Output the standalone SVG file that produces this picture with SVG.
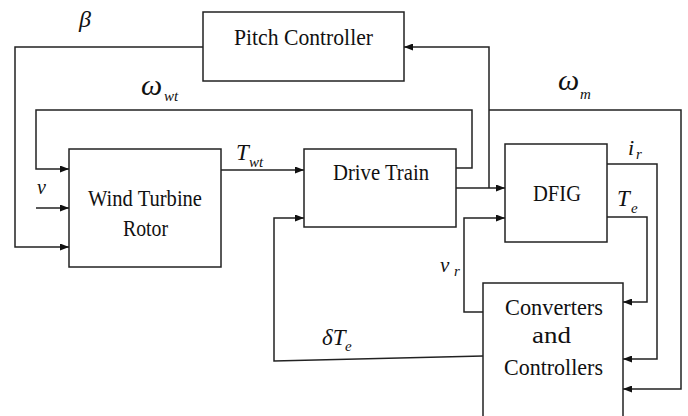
<svg xmlns="http://www.w3.org/2000/svg" width="688" height="416" viewBox="0 0 688 416">
<style>
.box{fill:#fff;stroke:#222;stroke-width:1.5}
.ln{fill:none;stroke:#222;stroke-width:1.5}
.t{font-size:23px;fill:#111}
.m{font-style:italic;fill:#111}
</style>
<defs>
<marker id="ah" markerWidth="9" markerHeight="7" refX="9" refY="3.5" orient="auto" markerUnits="userSpaceOnUse">
<path d="M0,0 L9,3.5 L0,7 Z" fill="#111"/>
</marker>
</defs>
<rect width="688" height="416" fill="#fff"/>
<g id="connectors">
<polyline class="ln" points="203,47 15,47 15,247 69,247" marker-end="url(#ah)"/>
<polyline class="ln" points="456,168 472,168 472,110 36,110 36,169 69,169" marker-end="url(#ah)"/>
<line class="ln" x1="36" y1="208" x2="69" y2="208" marker-end="url(#ah)"/>
<line class="ln" x1="221" y1="170" x2="304" y2="170" marker-end="url(#ah)"/>
<polyline class="ln" points="483,356 274,361 274,218 304,218" marker-end="url(#ah)"/>
<line class="ln" x1="456" y1="188" x2="505" y2="188" marker-end="url(#ah)"/>
<polyline class="ln" points="489,188 489,47 404,47" marker-end="url(#ah)"/>
<polyline class="ln" points="489,110 681,110 681,389 623,389" marker-end="url(#ah)"/>
<polyline class="ln" points="607,164 657,164 657,359 623,359" marker-end="url(#ah)"/>
<polyline class="ln" points="607,217 647,217 647,302 623,302" marker-end="url(#ah)"/>
<polyline class="ln" points="483,312 464,312 464,218 505,218" marker-end="url(#ah)"/>
</g>
<g font-family="Liberation Serif, Times New Roman, serif">
<g id="pitch">
<rect class="box" x="203" y="12" width="201" height="69"/>
<text class="t" x="234" y="45" textLength="139" lengthAdjust="spacingAndGlyphs">Pitch Controller</text>
</g>
<g id="rotor">
<rect class="box" x="69" y="149" width="152" height="118"/>
<text class="t" x="88" y="206" textLength="114" lengthAdjust="spacingAndGlyphs">Wind Turbine</text>
<text class="t" x="123" y="236" textLength="45" lengthAdjust="spacingAndGlyphs">Rotor</text>
</g>
<g id="drivetrain">
<rect class="box" x="304" y="149" width="152" height="78"/>
<text class="t" x="333" y="180" textLength="96" lengthAdjust="spacingAndGlyphs">Drive Train</text>
</g>
<g id="dfig">
<rect class="box" x="505" y="144" width="102" height="98"/>
<text class="t" x="533" y="201" textLength="48" lengthAdjust="spacingAndGlyphs">DFIG</text>
</g>
<g id="converters">
<path class="ln" d="M483,420 L483,283 L623,283 L623,420"/>
<text class="t" x="505" y="315" textLength="98" lengthAdjust="spacingAndGlyphs">Converters</text>
<text class="t" x="532" y="343" textLength="39" lengthAdjust="spacingAndGlyphs">and</text>
<text class="t" x="504" y="375" textLength="99" lengthAdjust="spacingAndGlyphs">Controllers</text>
</g>
<g id="labels">
<text class="m" x="79" y="27" font-size="24">β</text>
<text class="m" x="141" y="95" font-size="30">ω</text>
<text class="m" x="164" y="101" font-size="15">wt</text>
<text class="m" x="558" y="90" font-size="30">ω</text>
<text class="m" x="580" y="99" font-size="15">m</text>
<text class="m" x="37" y="194" font-size="20">v</text>
<text class="m" x="236" y="160" font-size="23">T</text>
<text class="m" x="249" y="167" font-size="15">wt</text>
<text class="m" x="628" y="155" font-size="22">i</text>
<text class="m" x="636" y="159" font-size="15">r</text>
<text class="m" x="617" y="206" font-size="23">T</text>
<text class="m" x="631" y="213" font-size="15">e</text>
<text class="m" x="440" y="272" font-size="21">v</text>
<text class="m" x="454" y="276" font-size="15">r</text>
<text class="m" x="322" y="345" font-size="23">δT</text>
<text class="m" x="345" y="351" font-size="15">e</text>
</g>
</g>
</svg>
